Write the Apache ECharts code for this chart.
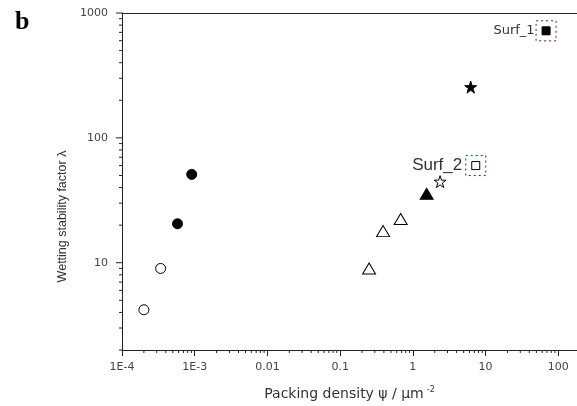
<!DOCTYPE html>
<html lang="en">
<head>
    <meta charset="UTF-8">
    <title>Wetting stability vs packing density</title>
    <script src="https://cdn.jsdelivr.net/npm/echarts@6.0.0/dist/echarts.min.js"></script>
    <style>
        html, body { margin: 0; padding: 0; background: #fff; }
        #chart { width: 577px; height: 406px; }
    </style>
</head>
<body>
    <div id="chart"></div>
    <script type="text/javascript">
    // values: [packing density, wetting stability factor]
    var openCircles = [[2.0e-4, 4.2], [3.4e-4, 9.0]];
    var filledCircles = [[5.8e-4, 20.5], [9.1e-4, 51]];
    var openTriangles = [[0.25, 9.0], [0.39, 17.9], [0.68, 22.4]];
    var filledTriangles = [[1.55, 35.6]];
    var openStars = [[2.37, 44.6]];
    var filledStars = [[6.25, 255]];
    var openSquares = [[7.33, 60]];
    var filledSquares = [[68, 720]];

    // the two marked surfaces (dotted boxes)
    var surfNames = ['Surf_1', 'Surf_2'];
    var surfPoints = [[68, 720], [7.33, 60]];

    // axis ticks
    var xTickValues = [1e-4, 1e-3, 0.01, 0.1, 1, 10, 100];
    var xTickLabels = ['1E-4', '1E-3', '0.01', '0.1', '1', '10', '100'];
    var yTickValues = [10, 100, 1000];
    var yTickLabels = ['10', '100', '1000'];

    var xMin = 1e-4, xMax = 181;
    var yMin = 2, yMax = 1000;

    // minor ticks 2..9 of every decade, kept inside the axis range
    function minorTicks(fromExp, toExp, lo, hi) {
        var out = [];
        for (var e = fromExp; e <= toExp; e++) {
            for (var m = 2; m <= 9; m++) {
                var v = m * Math.pow(10, e);
                if (v >= lo && v <= hi) out.push(v);
            }
        }
        return out;
    }
    var xMinorTicks = minorTicks(-4, 2, xMin, xMax);
    var yMinorTicks = minorTicks(0, 2, yMin, yMax);

    var lineColor = '#222';
    var labelColor = '#444';
    var starPath = 'path://M50,2 L61,36 L97,36 L68,57 L79,92 L50,71 L21,92 L32,57 L3,36 L39,36 Z';

    var chart = echarts.init(document.getElementById('chart'));

    function scatter(data, symbol, size, filled) {
        return {
            type: 'scatter',
            data: data,
            symbol: symbol,
            symbolSize: size,
            itemStyle: {
                color: filled ? '#000' : '#fff',
                borderColor: '#000',
                borderWidth: 1,
                opacity: 1
            },
            emphasis: { disabled: true },
            z: 3
        };
    }

    // small tick marks along the axes, placed through the axis scales
    function tickMarks(data, size, offset) {
        return {
            type: 'scatter',
            data: data,
            symbol: 'rect',
            symbolSize: size,
            symbolOffset: offset,
            clip: false,
            silent: true,
            itemStyle: { color: lineColor, opacity: 1 },
            emphasis: { disabled: true },
            z: 1
        };
    }

    var option = {
        animation: false,
        title: {
            text: 'b',
            left: 10,
            top: 4,
            textStyle: { fontFamily: 'Liberation Serif', fontWeight: 'bold', fontSize: 26, color: '#000' }
        },
        grid: { left: 122, right: 0, top: 13, bottom: 56, outerBoundsMode: 'none' },
        xAxis: [
            {
                type: 'log', min: xMin, max: xMax, position: 'bottom',
                axisLine: { onZero: false, lineStyle: { color: lineColor, width: 1 } },
                axisTick: { show: true, customValues: xTickValues, length: 6, lineStyle: { color: lineColor } },
                axisLabel: {
                    customValues: xTickValues, margin: 12, color: labelColor,
                    fontFamily: 'DejaVu Sans', fontSize: 11,
                    formatter: function (v) { return xTickLabels[Math.round(Math.log10(v)) + 4]; }
                },
                splitLine: { show: false },
                name: 'Packing density ψ / μm{sup|-2}',
                nameLocation: 'middle',
                nameGap: 36,
                nameTextStyle: {
                    fontFamily: 'DejaVu Sans', fontSize: 14, color: '#333',
                    rich: { sup: { fontFamily: 'DejaVu Sans', fontSize: 8, color: '#333', verticalAlign: 'top', padding: [0, 0, 8, 3] } }
                }
            },
            {
                // top frame line
                type: 'log', min: xMin, max: xMax, position: 'top',
                axisLine: { onZero: false, lineStyle: { color: lineColor, width: 1 } },
                axisTick: { show: false },
                axisLabel: { show: false },
                splitLine: { show: false }
            }
        ],
        yAxis: {
            type: 'log', min: yMin, max: yMax, position: 'left',
            axisLine: { show: true, onZero: false, lineStyle: { color: lineColor, width: 1 } },
            axisTick: { show: false },
            axisLabel: {
                customValues: yTickValues, margin: 14, color: labelColor,
                fontFamily: 'DejaVu Sans', fontSize: 11,
                formatter: function (v) { return yTickLabels[Math.round(Math.log10(v)) - 1]; }
            },
            splitLine: { show: false },
            name: 'Wetting stability factor λ',
            nameLocation: 'middle',
            nameGap: 53,
            nameTextStyle: {
                fontFamily: 'Liberation Sans', fontSize: 12.5, color: '#333',
                padding: [0, 70, 0, 0]
            }
        },
        series: [
            tickMarks(yTickValues.map(function (v) { return [xMin, v]; }), [6, 1], [-3, 0]),
            tickMarks(yMinorTicks.map(function (v) { return [xMin, v]; }), [3, 1], [-1.5, 0]),
            tickMarks(xMinorTicks.map(function (v) { return [v, yMin]; }), [1, 3], [0, 1.5]),
            scatter(openCircles, 'circle', 10, false),
            scatter(filledCircles, 'circle', 10, true),
            scatter(openTriangles, 'triangle', [13, 11], false),
            scatter(filledTriangles, 'triangle', [13, 11], true),
            scatter(openStars, starPath, 12, false),
            scatter(filledStars, starPath, 12, true),
            scatter(openSquares, 'rect', 8, false),
            scatter(filledSquares, 'rect', 8, true),
            {
                type: 'scatter',
                symbol: 'rect',
                symbolSize: 20,
                itemStyle: { color: 'rgba(0,0,0,0)', borderColor: '#6b1a2a', borderWidth: 1, borderType: [2, 3], opacity: 1 },
                emphasis: { disabled: true },
                z: 2,
                data: surfPoints.map(function (p, i) {
                    return {
                        value: p,
                        label: {
                            show: true,
                            position: 'left',
                            distance: i === 0 ? 1 : 3,
                            formatter: surfNames[i],
                            fontFamily: i === 0 ? 'DejaVu Sans' : 'Liberation Sans',
                            fontSize: i === 0 ? 13 : 17,
                            color: '#333'
                        }
                    };
                })
            }
        ]
    };
    chart.setOption(option);
    </script>
</body>
</html>
